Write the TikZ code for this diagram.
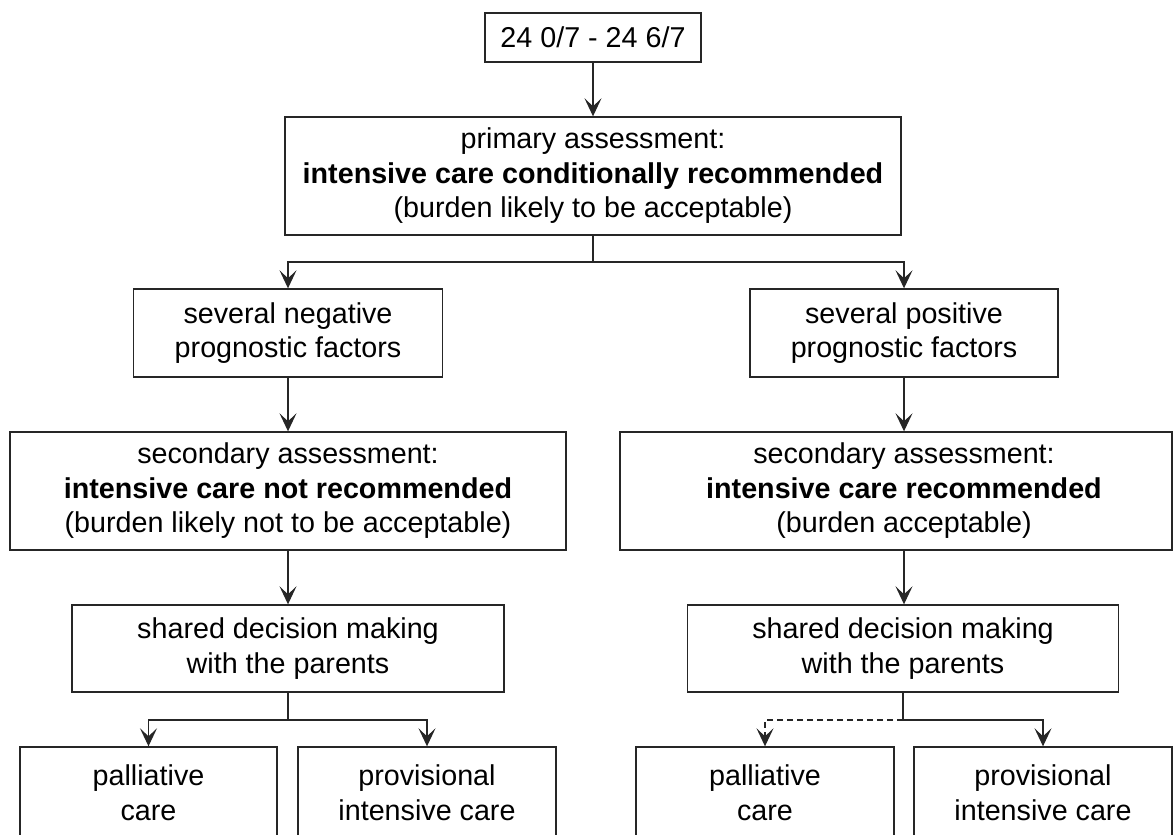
\documentclass[tikz,border=0pt]{standalone}
\usepackage{fontspec}
\setmainfont{Liberation Sans}
\usetikzlibrary{arrows.meta}
\newcommand\boxfont{\fontsize{28.7}{34.5}\selectfont}
\begin{document}
\begin{tikzpicture}[x=1pt,y=-1pt,
  box/.style={draw=black!85, line width=1.4pt, rectangle, inner sep=0pt, align=center, font=\boxfont, text=black},
  txt/.style={inner sep=0pt, align=center, font=\boxfont, text=black},
  ln/.style={draw=black!85, line width=1.3pt},
  arr/.style={draw=black!85, line width=1.3pt, -{Stealth[length=18pt,width=17pt,inset=8pt]}},
  darr/.style={arr, dash pattern=on 6pt off 4pt}]
\useasboundingbox (0,0) rectangle (1175,835);
\clip (0,0) rectangle (1175,835);
\fill[white] (0,0) rectangle (1175,835);

\node[box, minimum width=216pt, minimum height=49pt] (top) at (593,37.5) {24 0/7 - 24 6/7};
\node[box, minimum width=616pt, minimum height=118pt] (prim) at (593,176)
  {primary assessment:\\\textbf{intensive care conditionally recommended}\\(burden likely to be acceptable)};
\node[box, minimum width=309pt, minimum height=88pt] (neg) at (288,333)
  {several negative\\prognostic factors};
\node[box, minimum width=308pt, minimum height=88pt] (pos) at (904,333)
  {several positive\\prognostic factors};
\node[box, minimum width=556pt, minimum height=118pt] (secL) at (288,491)
  {secondary assessment:\\\textbf{intensive care not recommended}\\(burden likely not to be acceptable)};
\node[box, minimum width=552pt, minimum height=118pt] (secR) at (896,491) {};
\node[txt] (secRt) at (904,491)
  {secondary assessment:\\\textbf{intensive care recommended}\\(burden acceptable)};
\node[box, minimum width=432pt, minimum height=87pt] (shL) at (288,648.5)
  {shared decision making\\with the parents};
\node[box, minimum width=431pt, minimum height=87pt] (shR) at (903,648.5)
  {shared decision making\\with the parents};
\node[box, minimum width=257pt, minimum height=91pt] (palL) at (148.5,792.5) {palliative\\care};
\node[box, minimum width=258pt, minimum height=91pt] (provL) at (427,792.5) {provisional\\intensive care};
\node[box, minimum width=258pt, minimum height=91pt] (palR) at (765,792.5) {palliative\\care};
\node[box, minimum width=258pt, minimum height=91pt] (provR) at (1043,792.5) {provisional\\intensive care};

\coordinate (j1) at (593,262);
\coordinate (j2) at (288,720);
\coordinate (j3) at (903,720);

\draw[arr] (top.south) -- (prim.north);
\draw[ln] (prim.south) -- (j1);
\draw[arr] (j1) -| (neg.north);
\draw[arr] (j1) -| (pos.north);
\draw[arr] (neg.south) -- (neg.south |- secL.north);
\draw[arr] (pos.south) -- (pos.south |- secR.north);
\draw[arr] (secL.south) -- (shL.north);
\draw[arr] (pos.south |- secR.south) -- (pos.south |- shR.north);
\draw[ln] (shL.south) -- (j2);
\draw[arr] (j2) -| (palL.north);
\draw[arr] (j2) -| (provL.north);
\draw[ln] (shR.south) -- (j3);
\draw[darr] (j3) -| (palR.north);
\draw[arr] (j3) -| (provR.north);
\end{tikzpicture}
\end{document}
